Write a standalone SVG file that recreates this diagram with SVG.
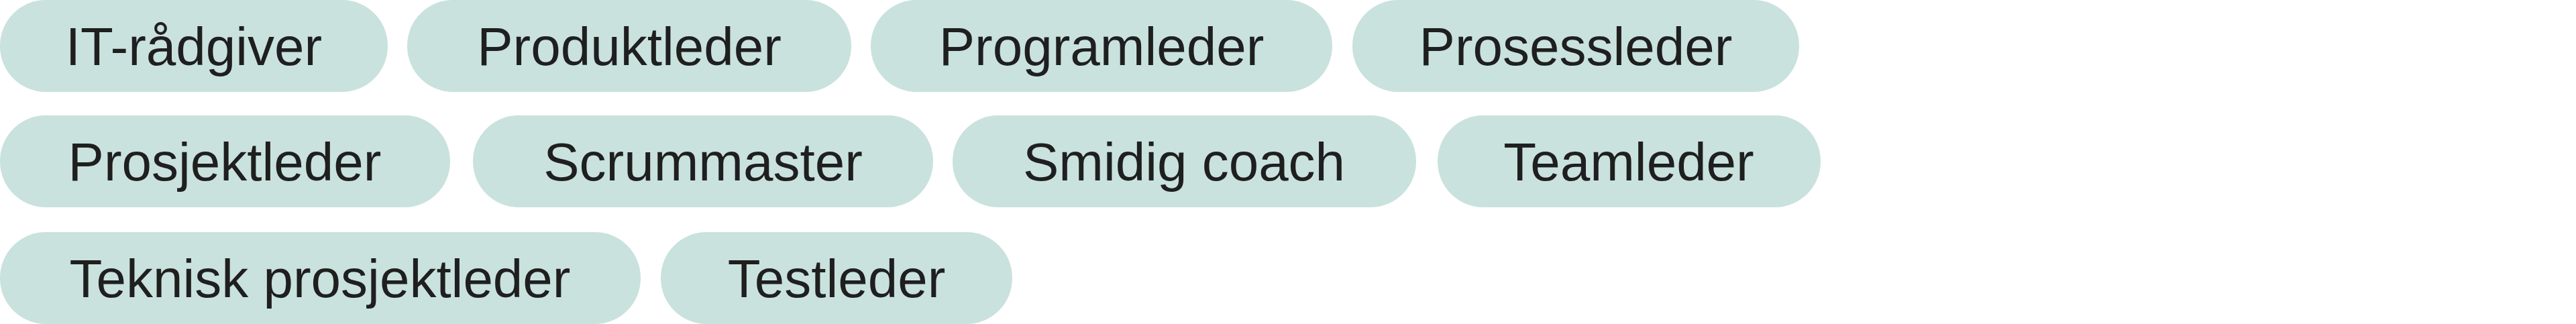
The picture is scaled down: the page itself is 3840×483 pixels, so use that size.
<svg xmlns="http://www.w3.org/2000/svg" width="3840" height="483" viewBox="0 0 3840 483">
<style>
.p{fill:#c9e2dd}
.t{font-family:"Liberation Sans",Arial,sans-serif;font-size:80px;fill:#1f1f1f;text-anchor:middle}
</style>
<rect width="3840" height="483" fill="#fff"/>
<g id="n1"><rect class="p" x="0" y="0" width="578" height="137" rx="68"/><text class="t" x="289" y="97">IT-rådgiver</text></g>
<g id="n2"><rect class="p" x="607" y="0" width="662" height="137" rx="68"/><text class="t" x="938" y="97">Produktleder</text></g>
<g id="n3"><rect class="p" x="1298" y="0" width="688" height="137" rx="68"/><text class="t" x="1642" y="97">Programleder</text></g>
<g id="n4"><rect class="p" x="2016" y="0" width="666" height="137" rx="68"/><text class="t" x="2349" y="97">Prosessleder</text></g>
<g id="n5"><rect class="p" x="0" y="172" width="671" height="137" rx="68"/><text class="t" x="335" y="269">Prosjektleder</text></g>
<g id="n6"><rect class="p" x="705" y="172" width="686" height="137" rx="68"/><text class="t" x="1048" y="269">Scrummaster</text></g>
<g id="n7"><rect class="p" x="1420" y="172" width="691" height="137" rx="68"/><text class="t" x="1765" y="269">Smidig coach</text></g>
<g id="n8"><rect class="p" x="2143" y="172" width="571" height="137" rx="68"/><text class="t" x="2428" y="269">Teamleder</text></g>
<g id="n9"><rect class="p" x="0" y="346" width="955" height="137" rx="68"/><text class="t" x="477" y="443">Teknisk prosjektleder</text></g>
<g id="n10"><rect class="p" x="985" y="346" width="524" height="137" rx="68"/><text class="t" x="1247" y="443">Testleder</text></g>
<g id="connectors"/>
</svg>
